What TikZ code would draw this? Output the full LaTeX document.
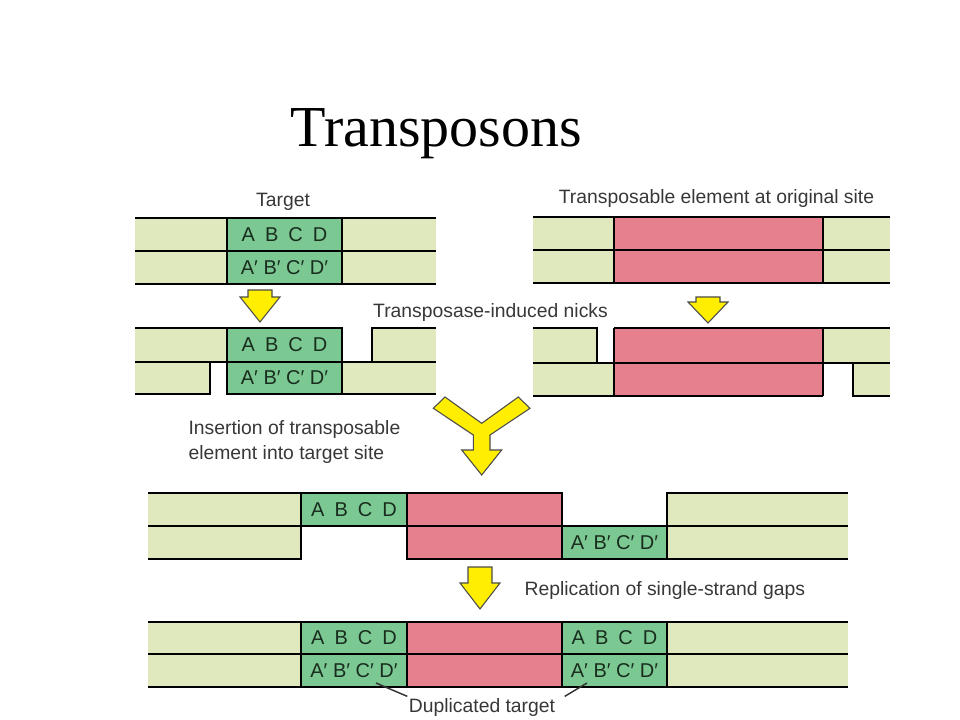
\documentclass[tikz,border=0pt]{standalone}
\usepackage{fontspec}
\setmainfont{Liberation Sans}
\newfontfamily\titlefont{Liberation Serif}
\usepackage{tikz}
\usetikzlibrary{calc}
\definecolor{pale}{RGB}{224,232,190}
\definecolor{tgtgreen}{RGB}{124,200,146}
\definecolor{tnpink}{RGB}{230,128,142}
\definecolor{arrowyellow}{RGB}{255,238,0}
\definecolor{labelgray}{RGB}{55,55,55}
\definecolor{seqtext}{RGB}{25,45,30}
\newcommand{\tgt}{A\hspace{.5em}B\hspace{.5em}C\hspace{.5em}D}
\newcommand{\tgtp}{A′ B′ C′ D′}

\begin{document}
\begin{tikzpicture}[x=0.75pt,y=-0.75pt,
  dnaline/.style={line width=2pt,line join=miter},
  arrowfill/.style={fill=arrowyellow,draw=black!70,line width=0.8pt,line join=miter},
  lbl/.style={font=\fontsize{14.5}{18.75}\selectfont,text=labelgray,inner sep=1pt},
  seq/.style={font=\fontsize{15}{17}\selectfont,text=seqtext,inner sep=0pt},
  leader/.style={line width=1.1pt,black!80}]
\useasboundingbox (0,0) rectangle (960,720);

\node[font=\titlefont\fontsize{43.5}{50}\selectfont,anchor=base] (title) at (436.5,147) {Transposons};

\fill[pale] (135,218) rectangle (436,284);
\fill[tgtgreen] (227,218) rectangle (342,284);
\foreach \y in {218,251,284} \draw[dnaline] (135,\y) -- (436,\y);
\draw[dnaline] (227,218) -- (227,284) (342,218) -- (342,284);
\node[seq] (s1) at (284.5,234.5) {\tgt};
\node[seq] (s2) at (284.5,267.5) {\tgtp};
\node[lbl,anchor=base] (target) at (283,207) {Target};

\fill[pale] (135,328) rectangle (227,362);
\fill[pale] (135,362) rectangle (210,394);
\fill[pale] (372,328) rectangle (436,362);
\fill[pale] (342,362) rectangle (436,394);
\fill[tgtgreen] (227,328) rectangle (342,394);
\draw[dnaline] (135,328) -- (342,328) -- (342,394)
  (372,362) -- (372,328) -- (436,328)
  (135,362) -- (436,362)
  (135,394) -- (210,394) -- (210,362)
  (227,328) -- (227,394) -- (436,394);
\node[seq] (s3) at (284.5,345) {\tgt};
\node[seq] (s4) at (284.5,378) {\tgtp};

\fill[pale] (533,217) rectangle (890,283);
\fill[tnpink] (614,217) rectangle (823,283);
\foreach \y in {217,250,283} \draw[dnaline] (533,\y) -- (890,\y);
\draw[dnaline] (614,217) -- (614,283) (823,217) -- (823,283);
\node[lbl,anchor=base] (orig) at (716.5,204) {Transposable element at original site};

\fill[pale] (533,328) rectangle (597,363);
\fill[pale] (533,363) rectangle (614,396);
\fill[pale] (823,328) rectangle (890,363);
\fill[pale] (853,363) rectangle (890,396);
\fill[tnpink] (614,328) rectangle (823,396);
\draw[dnaline] (533,328) -- (597,328) -- (597,363)
  (614,328) -- (890,328)
  (533,363) -- (890,363)
  (533,396) -- (823,396)
  (853,363) -- (853,396) -- (890,396)
  (614,328) -- (614,396) (823,328) -- (823,396);
\node[lbl,anchor=base] (nicks) at (490.5,317) {Transposase-induced nicks};

\foreach \x/\y/\s/\t in {260/290/297/322, 708/297/302/323, 480/567/583/609}
  \draw[arrowfill] (\x-12,\y) -- (\x+12,\y) -- (\x+12,\s) -- (\x+20,\s) -- (\x,\t)
    -- (\x-20,\s) -- (\x-12,\s) -- cycle;

\draw[arrowfill] (445,397) -- (481.7,423.3) -- (518.3,397) -- (530,408.3) -- (490,435)
  -- (490,450) -- (501.7,450) -- (481.7,475) -- (461.7,450) -- (473.3,450)
  -- (473.3,435) -- (433.3,408.3) -- cycle;
\node[lbl,align=left,anchor=north west] (insert) at (187,419) {Insertion of transposable\\element into target site};

\fill[pale] (148,493) rectangle (301,559);
\fill[tgtgreen] (301,493) rectangle (407,526);
\fill[tnpink] (407,493) rectangle (562,559);
\fill[tgtgreen] (562,526) rectangle (667,559);
\fill[pale] (667,493) rectangle (848,559);
\draw[dnaline] (148,493) -- (562,493) -- (562,559)
  (667,559) -- (667,493) -- (848,493)
  (148,526) -- (848,526)
  (148,559) -- (301,559) -- (301,493)
  (407,493) -- (407,559) -- (848,559);
\node[seq] (s5) at (354,509.5) {\tgt};
\node[seq] (s6) at (614.5,542.5) {\tgtp};
\node[lbl,anchor=base west] (repl) at (523,595) {Replication of single-strand gaps};

\fill[pale] (148,622) rectangle (848,687);
\fill[tgtgreen] (301,622) rectangle (407,687);
\fill[tnpink] (407,622) rectangle (562,687);
\fill[tgtgreen] (562,622) rectangle (667,687);
\foreach \y in {622,654,687} \draw[dnaline] (148,\y) -- (848,\y);
\foreach \x in {301,407,562,667} \draw[dnaline] (\x,622) -- (\x,687);
\node[seq] (s7) at (354,638) {\tgt};
\node[seq] (s8) at (354,670.5) {\tgtp};
\node[seq] (s9) at (614.5,638) {\tgt};
\node[seq] (s10) at (614.5,670.5) {\tgtp};

\node[lbl,anchor=base] (dup) at (482,712) {Duplicated target};
\coordinate (dupl) at (376,683);
\coordinate (dupr) at (587,683);
\draw[leader] (dupl) -- (dup.north west);
\draw[leader] (dupr) -- ([xshift=6pt]dup.north east);
\end{tikzpicture}
\end{document}
